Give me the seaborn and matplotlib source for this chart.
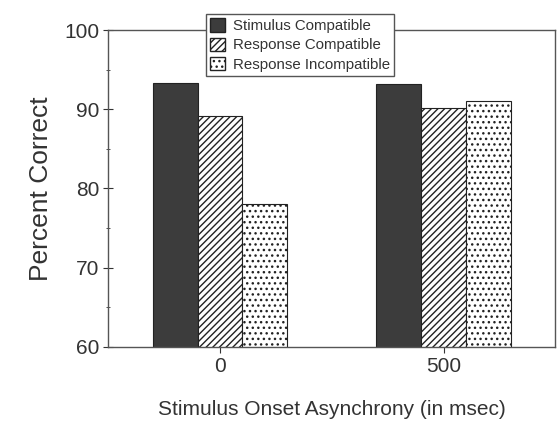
import matplotlib
matplotlib.use("Agg")
import pandas as pd
import numpy as np
import matplotlib.pyplot as plt
import seaborn as sns
from matplotlib.patches import Patch

sns.set_style("ticks")
plt.rcParams['font.family'] = ['Liberation Sans', 'DejaVu Sans']
plt.rcParams['hatch.linewidth'] = 1.0

# data
soa = ["0", "500"]
conditions = ["Stimulus Compatible", "Response Compatible", "Response Incompatible"]
stim_compat = [93.3, 93.2]
resp_compat = [89.1, 90.1]
resp_incompat = [78.0, 91.1]

df = pd.DataFrame({
    "soa": soa * 3,
    "condition": np.repeat(conditions, 2),
    "pct": stim_compat + resp_compat + resp_incompat,
})

txt = "#333333"
fills = ["#3c3c3c", "white", "white"]
hatches = [None, "/////", "..."]

fig, ax = plt.subplots(figsize=(5.57, 4.23), dpi=100)
sns.barplot(data=df, x="soa", y="pct", hue="condition", hue_order=conditions,
            order=soa, width=0.6, ax=ax, legend=False, errorbar=None)

for cont, fc, h in zip(ax.containers, fills, hatches):
    for bar in cont:
        bar.set_facecolor(fc)
        bar.set_edgecolor("#222222")
        bar.set_linewidth(0.8)
        if h:
            bar.set_hatch(h)

ax.set_ylim(60, 100)
ax.set_xlim(-0.5, 1.5)
ax.set_yticks([60, 70, 80, 90, 100])
ax.set_yticks([65, 75, 85, 95], minor=True)
ax.tick_params(axis="both", labelsize=15, colors=txt, length=4)
ax.tick_params(axis="y", which="major", direction="inout", length=7, pad=3)
ax.tick_params(axis="y", which="minor", direction="inout", length=3, colors=txt)
ax.set_ylabel("Percent Correct", fontsize=19, color=txt, labelpad=8)
ax.set_xlabel("Stimulus Onset Asynchrony (in msec)", fontsize=15, color=txt, labelpad=17)
for s in ax.spines.values():
    s.set_color("#555555")
    s.set_linewidth(1.0)

handles = [Patch(facecolor=fc, edgecolor="#222222", hatch=h, label=c)
           for fc, h, c in zip(fills, hatches, conditions)]
leg = ax.legend(handles=handles, loc="upper center", bbox_to_anchor=(0.429, 1.075),
                fontsize=10.8, frameon=True, fancybox=False, handlelength=1.0,
                handleheight=1.0, handletextpad=0.5, borderpad=0.3, labelspacing=0.3,
                labelcolor=txt)
leg.get_frame().set_edgecolor("#555555")
leg.get_frame().set_linewidth(1.0)
leg.get_frame().set_alpha(1)

fig.subplots_adjust(left=0.194, right=0.997, top=0.929, bottom=0.18)
fig.savefig("out.png", dpi=100)
